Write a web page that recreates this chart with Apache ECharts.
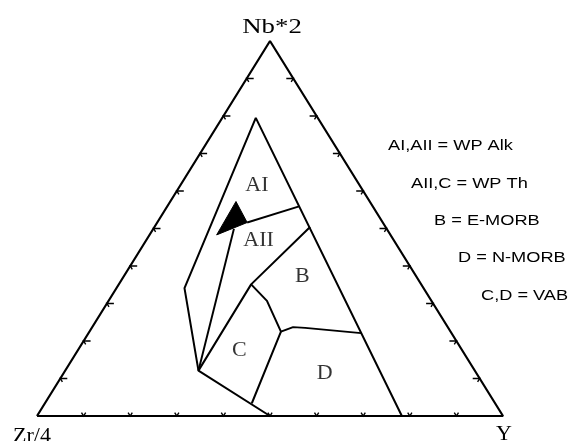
<!DOCTYPE html>
<html>
<head>
<meta charset="utf-8">
<script src="https://cdn.jsdelivr.net/npm/echarts@6/dist/echarts.min.js"></script>
<style>
  html, body { margin: 0; padding: 0; background: #fff; }
  #chart { width: 570px; height: 441px; }
</style>
</head>
<body>
<div id="chart"></div>
<script>
// 三角图成分点，顺序 [Zr/4, Nb*2, Y]，百分比
const tickSteps = [10, 20, 30, 40, 50, 60, 70, 80, 90]

// 分区边界
const outerField = [[50, 0, 50], [59.3, 12.1, 28.6], [51.3, 34.1, 14.6], [13.3, 79.5, 7.2], [21.7, 0, 78.3]]
const lineAI = [[29.1, 51.6, 19.3], [15.8, 55.9, 28.3]]
const lineC = [[59.3, 12.1, 28.6], [32.8, 49.9, 17.3]]
const lineAIIB = [[59.3, 12.1, 28.6], [36.5, 35.1, 28.4], [16.2, 50.4, 33.4]]
const lineBC = [[36.5, 35.1, 28.4], [35.3, 30.7, 34.0], [36.4, 22.5, 41.1], [52.2, 3.4, 44.4]]
const lineBD = [[36.4, 22.5, 41.1], [33.2, 23.7, 43.1], [30.7, 23.5, 45.8], [19.4, 22.1, 58.5]]
const wedge = [[28.7, 57.2, 14.1], [37.3, 48.3, 14.4], [29.1, 51.6, 19.3]]

// 分区名称和位置
const fieldNames = ['AI', 'AII', 'B', 'C', 'D']
const fieldPos = [[22.0, 61.6, 16.4], [29.0, 46.9, 24.1], [24.4, 37.3, 38.3], [47.8, 17.6, 34.6], [32.5, 11.5, 56.0]]

// 右侧说明文字
const legendLines = ['AI,AII = WP Alk', 'AII,C = WP Th', 'B = E-MORB', 'D = N-MORB', 'C,D = VAB']

// 三角坐标转直角坐标
const toXY = p => [(p[2] + p[1] / 2) / 100, p[1] / 100]

const frame = [[100, 0, 0], [0, 0, 100], [0, 100, 0], [100, 0, 0]]

const lineSeries = (pts, width) => ({
  type: 'line',
  data: pts.map(toXY),
  symbol: 'none',
  silent: true,
  lineStyle: { color: '#000', width: width },
  z: 3
})

// 刻度：0 底边，1 左边，2 右边
const tickData = []
tickSteps.forEach(t => {
  tickData.push([...toXY([100 - t, 0, t]), 0])
  tickData.push([...toXY([100 - t, t, 0]), 1])
  tickData.push([...toXY([0, t, 100 - t]), 2])
})

const unit = (u, v) => {
  const dx = v[0] - u[0], dy = v[1] - u[1], l = Math.hypot(dx, dy)
  return [dx / l, dy / l]
}

const renderTick = (params, api) => {
  const p = api.coord([api.value(0), api.value(1)])
  const a = api.coord([0, 0]), b = api.coord([1, 0]), c = api.coord([0.5, 1])
  const edge = api.value(2)
  let arms
  if (edge === 0) arms = [[unit(a, c), 4], [unit(b, c), 4]]
  else if (edge === 1) arms = [[[1, 0], 7], [unit(c, b), 4]]
  else arms = [[[-1, 0], 7], [unit(c, a), 4]]
  const pts = [
    [p[0] + arms[0][0][0] * arms[0][1], p[1] + arms[0][0][1] * arms[0][1]],
    p,
    [p[0] + arms[1][0][0] * arms[1][1], p[1] + arms[1][0][1] * arms[1][1]]
  ]
  return { type: 'polyline', shape: { points: pts }, style: { stroke: '#000', lineWidth: 1.4, fill: null } }
}

const renderWedge = (params, api) => {
  if (params.dataIndex !== 0) return
  return {
    type: 'polygon',
    shape: { points: wedge.map(p => api.coord(toXY(p))) },
    style: { fill: '#000', stroke: '#000', lineWidth: 1 }
  }
}

const serif = '"Liberation Serif", "Times New Roman", serif'
const sans = '"Liberation Sans", Arial, sans-serif'

const legendX = [388, 411, 434, 458, 481]
const legendY = [146, 184, 221, 258, 296]

const graphics = [
  { type: 'text', x: 272, y: 27, scaleX: 1.22, style: { text: 'Nb*2', font: '22px ' + serif, fill: '#000', textAlign: 'center', textVerticalAlign: 'middle' } },
  { type: 'text', x: 32, y: 436, style: { text: 'Zr/4', font: '22px ' + serif, fill: '#000', textAlign: 'center', textVerticalAlign: 'middle' } },
  { type: 'text', x: 504, y: 434, style: { text: 'Y', font: '22px ' + serif, fill: '#000', textAlign: 'center', textVerticalAlign: 'middle' } }
]
legendLines.forEach((t, i) => {
  graphics.push({
    type: 'text', x: legendX[i], y: legendY[i], scaleX: 1.3,
    style: { text: t, font: '14px ' + sans, fill: '#000', textAlign: 'left', textVerticalAlign: 'middle' }
  })
})

const chart = echarts.init(document.getElementById('chart'))
const option = {
  animation: false,
  backgroundColor: '#fff',
  grid: { left: 37, right: 67, top: 41, bottom: 25 },
  xAxis: { type: 'value', min: 0, max: 1, show: false },
  yAxis: { type: 'value', min: 0, max: 1, show: false },
  graphic: graphics,
  series: [
    lineSeries(frame, 2.2),
    lineSeries(outerField, 2),
    lineSeries(lineAI, 2),
    lineSeries(lineC, 2),
    lineSeries(lineAIIB, 2),
    lineSeries(lineBC, 2),
    lineSeries(lineBD, 2),
    {
      type: 'custom',
      renderItem: renderTick,
      data: tickData,
      silent: true,
      z: 4
    },
    {
      type: 'custom',
      renderItem: renderWedge,
      data: wedge.map(toXY),
      silent: true,
      z: 5
    },
    {
      type: 'scatter',
      symbolSize: 1,
      itemStyle: { color: 'rgba(0,0,0,0)' },
      silent: true,
      data: fieldPos.map((p, i) => ({ name: fieldNames[i], value: toXY(p) })),
      label: {
        show: true,
        position: 'inside',
        formatter: '{b}',
        color: '#000',
        fontFamily: serif,
        fontSize: 22
      },
      z: 6
    }
  ]
}
chart.setOption(option)
</script>
</body>
</html>
